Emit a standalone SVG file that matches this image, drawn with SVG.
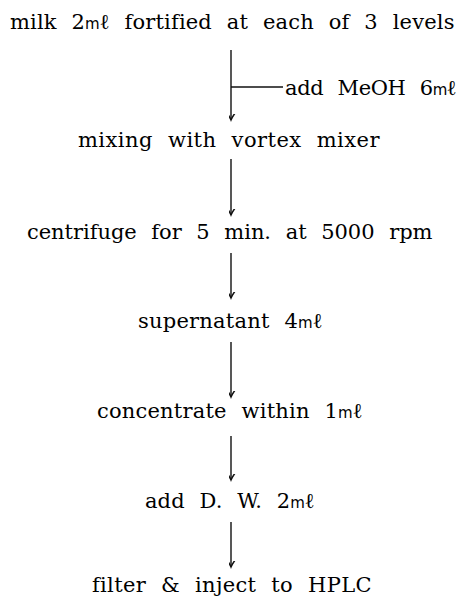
<svg xmlns="http://www.w3.org/2000/svg" width="470" height="600" viewBox="0 0 470 600">
  <defs>
    <style>
      .step { font-family: "DejaVu Serif", serif; font-size: 21px; fill: #000; letter-spacing: 0.5px; word-spacing: 8px; }
      .unit { font-family: "DejaVu Sans", sans-serif; font-size: 15px; letter-spacing: 0px; }
      .flow { stroke: #111; stroke-width: 1.4; fill: none; }
    </style>
    <marker id="arrowhead" markerUnits="userSpaceOnUse" markerWidth="12" markerHeight="12" refX="0" refY="0" viewBox="-6 -10 12 12" orient="auto">
      <path d="M-4.5,-7.5 Q-1.5,-3.5 0,0 Q1.5,-3.5 4.5,-7.5" transform="rotate(-90)" fill="none" stroke="#111" stroke-width="1.5"/>
    </marker>
  </defs>
  <rect width="470" height="600" fill="#fff"/>

  <!-- flow arrows, plus the side branch for the methanol addition -->
  <g id="connectors">
    <line class="flow" x1="231" y1="50" x2="231" y2="120" marker-end="url(#arrowhead)"/>
    <line class="flow" x1="231" y1="87" x2="283" y2="87"/>
    <line class="flow" x1="231" y1="159" x2="231" y2="215" marker-end="url(#arrowhead)"/>
    <line class="flow" x1="231" y1="253" x2="231" y2="298" marker-end="url(#arrowhead)"/>
    <line class="flow" x1="231" y1="342" x2="231" y2="397" marker-end="url(#arrowhead)"/>
    <line class="flow" x1="231" y1="436" x2="231" y2="480" marker-end="url(#arrowhead)"/>
    <line class="flow" x1="231" y1="522" x2="231" y2="567" marker-end="url(#arrowhead)"/>
  </g>

  <g id="sample">
    <text class="step" x="10" y="29" textLength="445" lengthAdjust="spacing">milk 2<tspan class="unit">m</tspan>ℓ fortified at each of 3 levels</text>
  </g>
  <g id="add-meoh">
    <text class="step" x="285" y="95" textLength="172" lengthAdjust="spacing">add MeOH 6<tspan class="unit">m</tspan>ℓ</text>
  </g>
  <g id="mixing">
    <text class="step" x="78" y="147" textLength="302" lengthAdjust="spacing">mixing with vortex mixer</text>
  </g>
  <g id="centrifuge">
    <text class="step" x="27" y="239" textLength="406" lengthAdjust="spacing">centrifuge for 5 min. at 5000 rpm</text>
  </g>
  <g id="supernatant">
    <text class="step" x="138" y="328" textLength="185" lengthAdjust="spacing">supernatant 4<tspan class="unit">m</tspan>ℓ</text>
  </g>
  <g id="concentrate">
    <text class="step" x="97" y="418" textLength="266" lengthAdjust="spacing">concentrate within 1<tspan class="unit">m</tspan>ℓ</text>
  </g>
  <g id="add-dw">
    <text class="step" x="145" y="508" textLength="170" lengthAdjust="spacing">add D. W. 2<tspan class="unit">m</tspan>ℓ</text>
  </g>
  <g id="filter-inject">
    <text class="step" x="92" y="592" textLength="280" lengthAdjust="spacing">filter &amp; inject to HPLC</text>
  </g>
</svg>
